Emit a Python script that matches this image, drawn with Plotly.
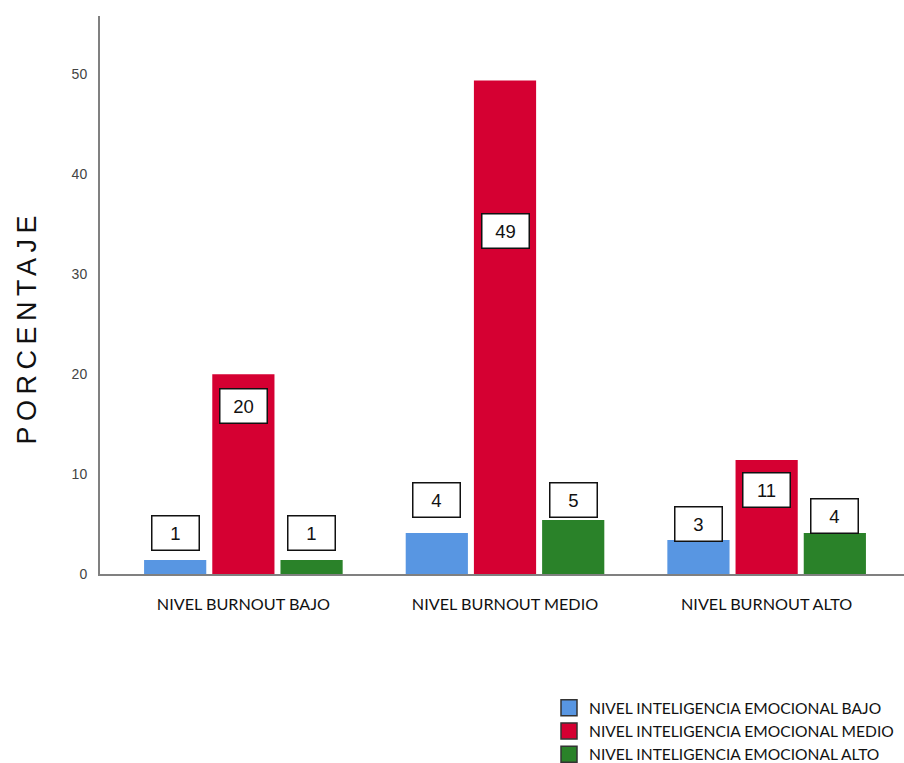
import plotly.graph_objects as go

categories = ["NIVEL BURNOUT BAJO", "NIVEL BURNOUT MEDIO", "NIVEL BURNOUT ALTO"]
series_names = ["NIVEL INTELIGENCIA EMOCIONAL BAJO",
                "NIVEL INTELIGENCIA EMOCIONAL MEDIO",
                "NIVEL INTELIGENCIA EMOCIONAL ALTO"]
ie_bajo = [1.4, 4.1, 3.4]
ie_medio = [20.0, 49.4, 11.4]
ie_alto = [1.4, 5.4, 4.1]
y_ticks = [0, 10, 20, 30, 40, 50]
y_title = "PORCENTAJE"

# label box centre positions (layout, in axis units)
label_pos = [[4.1, 7.4, 5.0], [16.8, 34.3, 8.45], [4.1, 7.4, 5.85]]

colors = ["#5896E2", "#D50032", "#2A8229"]
series = [ie_bajo, ie_medio, ie_alto]

bargap = 0.218
bargroupgap = 0.088

fig = go.Figure()
for name, vals, col in zip(series_names, series, colors):
    fig.add_trace(go.Bar(x=categories, y=vals, name=name, marker_color=col,
                         marker_line_width=0, showlegend=False))
# legend entries
for name, col in zip(series_names, colors):
    fig.add_trace(go.Scatter(x=[None], y=[None], mode="markers", name=name,
                             marker=dict(symbol="square", size=18, color=col,
                                         line=dict(color="#333333", width=1.5))))

plot_l, plot_r, plot_t, plot_b = 100, 904, 16, 574

slot = (1 - bargap) / 3
annotations = []
for si, vals in enumerate(series):
    for ci, v in enumerate(vals):
        annotations.append(dict(
            x=ci + (si - 1) * slot, y=label_pos[si][ci], xref="x", yref="y",
            text=f"{v:.0f}", showarrow=False,
            font=dict(family="Arial", size=18.5, color="#111111"),
            bgcolor="white", bordercolor="#111111", borderwidth=1.5,
            width=46, height=33, borderpad=0, align="center"))
annotations.append(dict(
    x=(27 - plot_l) / (plot_r - plot_l), y=(plot_b - 327) / (plot_b - plot_t),
    xref="paper", yref="paper", text=y_title, showarrow=False,
    textangle=-90, font=dict(family="Arial", size=27, color="#111111"),
    xanchor="center", yanchor="middle"))

fig.update_layout(
    width=904, height=763,
    margin=dict(l=plot_l, r=904 - plot_r, t=plot_t, b=763 - plot_b, autoexpand=False),
    paper_bgcolor="white", plot_bgcolor="white",
    barmode="group", bargap=bargap, bargroupgap=bargroupgap,
    annotations=annotations,
    showlegend=True,
    legend=dict(x=(549 - plot_l) / (plot_r - plot_l),
                y=-(691 - plot_b) / (plot_b - plot_t),
                xanchor="left", yanchor="top",
                font=dict(family="Lato", size=15.6, color="#111111"),
                itemsizing="trace", tracegroupgap=0, itemwidth=30,
                bgcolor="rgba(0,0,0,0)"),
    xaxis=dict(type="category", range=[-0.548, 2.525], showline=True,
               linecolor="#808080", linewidth=2, showgrid=False, ticks="",
               ticklabelstandoff=15, tickangle=0,
               tickfont=dict(family="Lato", size=16.2, color="#111111")),
    yaxis=dict(range=[0, 55.85], tickvals=y_ticks, showline=True,
               linecolor="#808080", linewidth=2, showgrid=False, zeroline=False,
               ticks="", ticklabelstandoff=8,
               tickfont=dict(family="Arial", size=14, color="#444444")),
)

post = """
document.querySelectorAll('.annotation-text').forEach(function(t){
  if (t.textContent === 'PORCENTAJE') { t.style.letterSpacing = '5.5px'; }
});
"""
fig.write_html("out.html", post_script=post)
